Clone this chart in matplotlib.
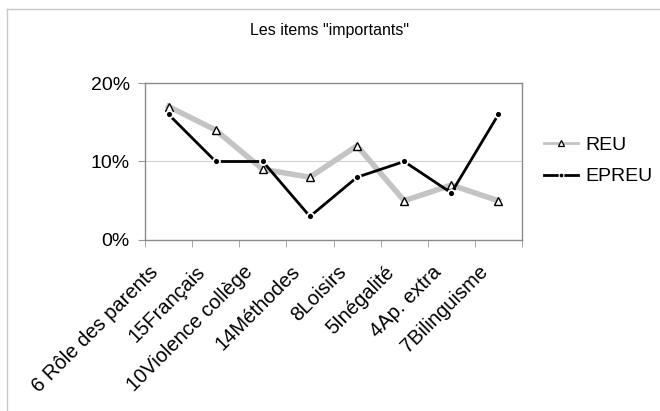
import matplotlib
matplotlib.use("Agg")
import matplotlib.pyplot as plt
from matplotlib.lines import Line2D
import matplotlib.transforms as mtransforms
import numpy as np

plt.rcParams['font.family'] = ['Liberation Sans', 'DejaVu Sans']

categories = ["6 Rôle des parents", "15Français", "10Violence collège", "14Méthodes",
              "8Loisirs", "5Inégalité", "4Ap. extra", "7Bilinguisme"]
reu = [17, 14, 9, 8, 12, 5, 7, 5]
epreu = [16, 10, 10, 3, 8, 10, 6, 16]
yticks = [0, 10, 20]
ytick_labels = ["0%", "10%", "20%"]
title = 'Les items "importants"'

fig = plt.figure(figsize=(6.6, 4.11), dpi=100)
ax = fig.add_axes([145/660, 1-240/411, (522-145)/660, (240-83)/411])

x = np.arange(len(categories))
ax.plot(x, reu, color='#c4c4c4', lw=4.0, marker='^', markersize=5.5,
        markerfacecolor='white', markeredgecolor='black', markeredgewidth=1.0,
        solid_joinstyle='round', zorder=3)
ax.plot(x, epreu, color='black', lw=2.0, marker='o', markersize=5,
        markerfacecolor='black', markeredgecolor='white', markeredgewidth=1.3, zorder=4)

ax.set_xlim(-0.5, len(categories)-0.5)
ax.set_ylim(0, 20)
ax.set_yticks(yticks)
ax.set_yticklabels(ytick_labels, fontsize=14)
ax.axhline(10, color='#d0d0d0', lw=0.8, zorder=1)

ax.set_xticks(x)
ax.set_xticks(np.arange(len(categories)+1) - 0.5, minor=True)
ax.tick_params(axis='x', which='major', length=0, pad=16)
ax.tick_params(axis='x', which='minor', length=5, color='#999999', direction='out')
ax.tick_params(axis='y', length=5, color='#999999', direction='out', pad=6)
labels = ax.set_xticklabels(categories, fontsize=14.5, rotation=45, ha='right',
                            va='top', rotation_mode='anchor')
offset = mtransforms.ScaledTranslation(-20/100, 0, fig.dpi_scale_trans)
for lab in labels:
    lab.set_transform(lab.get_transform() + offset)

for s in ax.spines.values():
    s.set_color('#8c8c8c')
    s.set_linewidth(1.0)

fig.text(0.5, 1-30/411, title, ha='center', va='center', fontsize=11.5)

handles = [Line2D([], [], color='#c4c4c4', lw=2, marker='^', markersize=4,
                  markerfacecolor='white', markeredgecolor='black', markeredgewidth=0.9),
           Line2D([], [], color='black', lw=2, marker='o', markersize=3.5,
                  markerfacecolor='black', markeredgecolor='white', markeredgewidth=0.8)]
fig.legend(handles, ["REU", "EPREU"], loc='center left',
           bbox_to_anchor=(526/660, 1-161/411), frameon=False, fontsize=14,
           handlelength=1.75, handletextpad=0.4, labelspacing=0.7)

# outer frame (left and top edges)
fig.add_artist(Line2D([7/660, 7/660], [0, 1-9/411], transform=fig.transFigure,
                      color='#c8c8c8', lw=1))
fig.add_artist(Line2D([7/660, 1], [1-9/411, 1-9/411], transform=fig.transFigure,
                      color='#c8c8c8', lw=1))

fig.savefig("out.png", dpi=100)
